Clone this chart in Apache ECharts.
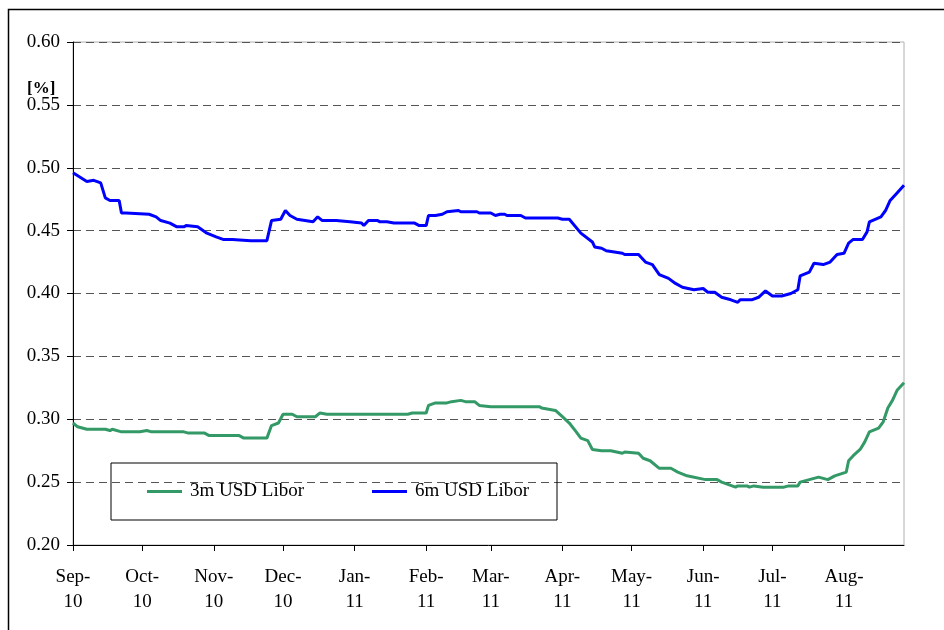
<!DOCTYPE html>
<html>
<head>
<meta charset="utf-8">
<script src="https://cdn.jsdelivr.net/npm/echarts@6/dist/echarts.min.js"></script>
<style>
  html, body { margin: 0; padding: 0; background: #fff; }
  #chart { width: 944px; height: 630px; }
</style>
</head>
<body>
<div id="chart"></div>
<script>
// 6m USD Libor
const sixDates = [
  '2010-09-01', '2010-09-07', '2010-09-10', '2010-09-13', '2010-09-15', '2010-09-17', '2010-09-21',
  '2010-09-22', '2010-09-24', '2010-10-04', '2010-10-07', '2010-10-09', '2010-10-13', '2010-10-16',
  '2010-10-19', '2010-10-20', '2010-10-25', '2010-10-29', '2010-11-02', '2010-11-05', '2010-11-09',
  '2010-11-17', '2010-11-24', '2010-11-26', '2010-11-30', '2010-12-02', '2010-12-04', '2010-12-07',
  '2010-12-14', '2010-12-16', '2010-12-18', '2010-12-24', '2010-12-30', '2011-01-04', '2011-01-05',
  '2011-01-07', '2011-01-11', '2011-01-12', '2011-01-15', '2011-01-18', '2011-01-27', '2011-01-29',
  '2011-02-01', '2011-02-02', '2011-02-05', '2011-02-08', '2011-02-10', '2011-02-15', '2011-02-16',
  '2011-02-23', '2011-02-24', '2011-03-01', '2011-03-03', '2011-03-05', '2011-03-07', '2011-03-08',
  '2011-03-14', '2011-03-16', '2011-03-30', '2011-04-01', '2011-04-04', '2011-04-09', '2011-04-14',
  '2011-04-15', '2011-04-18', '2011-04-20', '2011-04-27', '2011-04-28', '2011-05-04', '2011-05-07',
  '2011-05-10', '2011-05-13', '2011-05-17', '2011-05-20', '2011-05-23', '2011-05-28', '2011-06-01',
  '2011-06-03', '2011-06-06', '2011-06-09', '2011-06-13', '2011-06-16', '2011-06-17', '2011-06-22',
  '2011-06-25', '2011-06-28', '2011-07-01', '2011-07-05', '2011-07-09', '2011-07-12', '2011-07-13',
  '2011-07-17', '2011-07-19', '2011-07-23', '2011-07-26', '2011-07-29', '2011-08-01', '2011-08-03',
  '2011-08-05', '2011-08-09', '2011-08-11', '2011-08-12', '2011-08-17', '2011-08-19', '2011-08-21',
  '2011-08-24', '2011-08-27'
];
const sixValues = [
  0.496, 0.489, 0.490, 0.488, 0.476, 0.474, 0.474,
  0.464, 0.464, 0.463, 0.461, 0.458, 0.456, 0.453,
  0.453, 0.454, 0.453, 0.448, 0.445, 0.443, 0.443,
  0.442, 0.442, 0.458, 0.459, 0.466, 0.462, 0.459,
  0.457, 0.461, 0.458, 0.458, 0.457, 0.456, 0.454,
  0.458, 0.458, 0.457, 0.457, 0.456, 0.456, 0.454,
  0.454, 0.462, 0.462, 0.463, 0.465, 0.466, 0.465,
  0.465, 0.464, 0.464, 0.462, 0.463, 0.463, 0.462,
  0.462, 0.460, 0.460, 0.459, 0.459, 0.448, 0.441,
  0.437, 0.436, 0.434, 0.432, 0.431, 0.431, 0.425,
  0.423, 0.415, 0.412, 0.408, 0.405, 0.403, 0.404,
  0.401, 0.401, 0.397, 0.395, 0.393, 0.395, 0.395,
  0.397, 0.402, 0.398, 0.398, 0.400, 0.403, 0.414,
  0.417, 0.424, 0.423, 0.425, 0.431, 0.432, 0.440,
  0.443, 0.443, 0.449, 0.457, 0.461, 0.466, 0.474,
  0.480, 0.486
];

// 3m USD Libor
const threeDates = [
  '2010-09-01', '2010-09-03', '2010-09-07', '2010-09-15', '2010-09-17', '2010-09-18', '2010-09-22',
  '2010-09-30', '2010-10-03', '2010-10-05', '2010-10-19', '2010-10-21', '2010-10-28', '2010-10-30',
  '2010-11-12', '2010-11-14', '2010-11-24', '2010-11-26', '2010-11-29', '2010-12-01', '2010-12-05',
  '2010-12-07', '2010-12-15', '2010-12-17', '2010-12-20', '2011-01-24', '2011-01-26', '2011-02-01',
  '2011-02-02', '2011-02-05', '2011-02-10', '2011-02-12', '2011-02-16', '2011-02-18', '2011-02-22',
  '2011-02-24', '2011-03-01', '2011-03-22', '2011-03-23', '2011-03-29', '2011-04-01', '2011-04-04',
  '2011-04-07', '2011-04-09', '2011-04-12', '2011-04-14', '2011-04-18', '2011-04-22', '2011-04-27',
  '2011-04-28', '2011-05-04', '2011-05-06', '2011-05-09', '2011-05-13', '2011-05-18', '2011-05-21',
  '2011-05-25', '2011-06-02', '2011-06-07', '2011-06-09', '2011-06-15', '2011-06-16', '2011-06-20',
  '2011-06-21', '2011-06-23', '2011-06-27', '2011-07-06', '2011-07-08', '2011-07-12', '2011-07-13',
  '2011-07-21', '2011-07-25', '2011-07-28', '2011-08-02', '2011-08-03', '2011-08-05', '2011-08-08',
  '2011-08-10', '2011-08-12', '2011-08-16', '2011-08-18', '2011-08-20', '2011-08-22', '2011-08-24',
  '2011-08-26', '2011-08-27'
];
const threeValues = [
  0.297, 0.294, 0.292, 0.292, 0.291, 0.292, 0.290,
  0.290, 0.291, 0.290, 0.290, 0.289, 0.289, 0.287,
  0.287, 0.285, 0.285, 0.295, 0.297, 0.304, 0.304,
  0.302, 0.302, 0.305, 0.304, 0.304, 0.305, 0.305,
  0.311, 0.313, 0.313, 0.314, 0.315, 0.314, 0.314,
  0.311, 0.310, 0.310, 0.309, 0.307, 0.302, 0.297,
  0.290, 0.285, 0.283, 0.276, 0.275, 0.275, 0.273,
  0.274, 0.273, 0.269, 0.267, 0.261, 0.261, 0.258,
  0.255, 0.252, 0.252, 0.250, 0.246, 0.247, 0.247,
  0.246, 0.247, 0.246, 0.246, 0.247, 0.247, 0.250,
  0.254, 0.252, 0.255, 0.258, 0.267, 0.271, 0.276,
  0.282, 0.290, 0.293, 0.298, 0.309, 0.315, 0.323,
  0.327, 0.329
];

const monthNames = ['Jan', 'Feb', 'Mar', 'Apr', 'May', 'Jun', 'Jul', 'Aug', 'Sep', 'Oct', 'Nov', 'Dec']
const serif = '"Liberation Serif", "Times New Roman", serif'

const zip = (dates, vals) => dates.map((d, i) => [d, vals[i]])

const chart = echarts.init(document.getElementById('chart'))

chart.setOption({
  animation: false,
  backgroundColor: '#fff',
  textStyle: { fontFamily: serif },
  grid: {
    left: 73,
    right: 40,
    top: 42,
    bottom: 85,
    show: true,
    borderColor: '#b0b0b0',
    borderWidth: 1
  },
  graphic: [
    {
      type: 'rect',
      silent: true,
      shape: { x: 8.5, y: 9.5, width: 960, height: 660 },
      style: { fill: 'none', stroke: '#000', lineWidth: 1.5 }
    },
    {
      type: 'text',
      left: 27,
      top: 80,
      style: { text: '[%]', font: 'bold 17px ' + serif, fill: '#000' }
    }
  ],
  legend: {
    left: 111,
    top: 463,
    orient: 'horizontal',
    padding: [19, 28, 19, 36],
    itemGap: 68,
    itemWidth: 35,
    itemHeight: 3,
    borderColor: '#000',
    borderWidth: 1,
    icon: 'rect',
    textStyle: { fontFamily: serif, fontSize: 19, color: '#000', padding: [0, 0, 0, 3] },
    data: ['3m USD Libor', '6m USD Libor']
  },
  xAxis: {
    type: 'time',
    min: '2010-09-01',
    max: '2011-08-27',
    minInterval: 28 * 86400000,
    maxInterval: 31 * 86400000,
    splitLine: { show: false },
    axisLine: { lineStyle: { color: '#000', width: 1 } },
    axisTick: { show: true, length: 6, lineStyle: { color: '#000' } },
    axisLabel: {
      margin: 20,
      color: '#000',
      fontFamily: serif,
      fontSize: 19,
      lineHeight: 25,
      showMinLabel: true,
      formatter: (val) => {
        const d = new Date(val)
        return monthNames[d.getMonth()] + '-\n' + String(d.getFullYear()).slice(2)
      }
    }
  },
  yAxis: {
    type: 'value',
    min: 0.2,
    max: 0.6,
    interval: 0.05,
    axisLine: { show: true, lineStyle: { color: '#000', width: 1 } },
    axisTick: { show: true, length: 6, lineStyle: { color: '#000' } },
    axisLabel: {
      margin: 13,
      color: '#000',
      fontFamily: serif,
      fontSize: 19,
      formatter: (v) => v.toFixed(2)
    },
    splitLine: {
      show: true,
      lineStyle: { color: '#555', type: [8, 5], width: 1 }
    }
  },
  series: [
    {
      name: '3m USD Libor',
      type: 'line',
      symbol: 'none',
      color: '#339966',
      lineStyle: { width: 3, color: '#339966' },
      data: zip(threeDates, threeValues)
    },
    {
      name: '6m USD Libor',
      type: 'line',
      symbol: 'none',
      color: '#0000ff',
      lineStyle: { width: 3, color: '#0000ff' },
      data: zip(sixDates, sixValues)
    }
  ]
})

window.addEventListener('resize', () => chart.resize())
</script>
</body>
</html>
